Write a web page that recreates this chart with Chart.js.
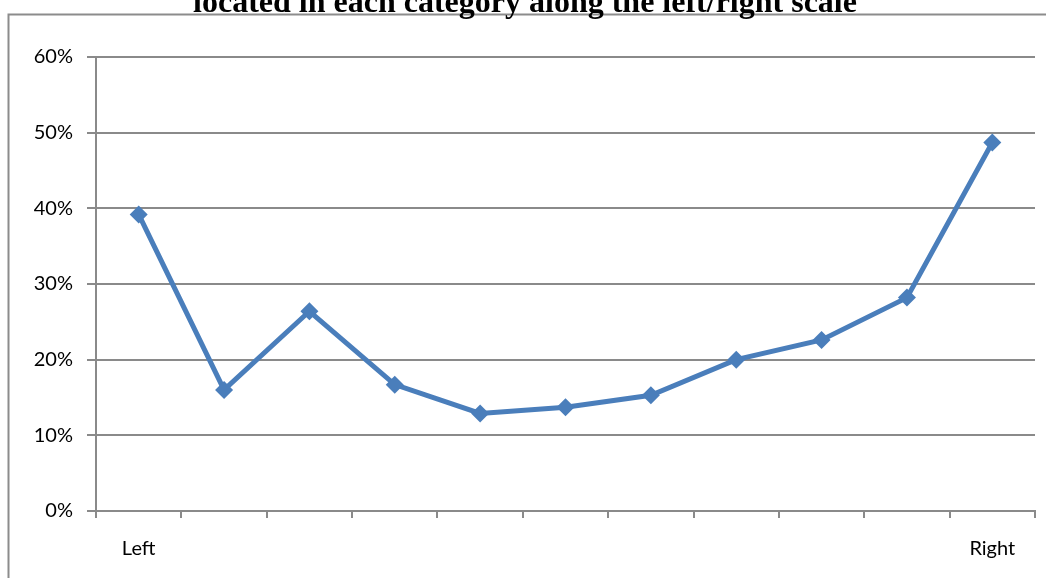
<!DOCTYPE html>
<html>
<head>
<meta charset="utf-8">
<script src="https://cdn.jsdelivr.net/npm/chart.js@4/dist/chart.umd.min.js"></script>
<style>
  html, body { margin: 0; padding: 0; background: #fff; }
  #wrap { width: 1046px; height: 578px; position: relative; }
</style>
</head>
<body>
<div id="wrap"><canvas id="chart" width="1046" height="578"></canvas></div>
<script>
// Share of respondents placed in each position of the left/right scale
const categories = ['Left', '', '', '', '', '', '', '', '', '', 'Right'];
const shares = [0.392, 0.160, 0.264, 0.167, 0.129, 0.137, 0.153, 0.200, 0.226, 0.282, 0.487];
const yTicks = [0, 0.1, 0.2, 0.3, 0.4, 0.5, 0.6];

const titleText = 'located in each category along the left/right scale';
const gridGray = '#8a8a8a';
const seriesBlue = '#4a7ebb';
const labelFont = { family: 'Lato, "Open Sans", sans-serif', size: 20 };

// Outer frame and the (partly clipped) heading
const framePlugin = {
  id: 'frame',
  beforeDraw(chart) {
    const ctx = chart.ctx;
    ctx.save();
    ctx.strokeStyle = '#8c8c8c';
    ctx.lineWidth = 2;
    ctx.beginPath();
    ctx.moveTo(8.5, 600);
    ctx.lineTo(8.5, 14.5);
    ctx.lineTo(1060, 14.5);
    ctx.stroke();
    ctx.fillStyle = '#000';
    ctx.font = 'bold 32px "Liberation Serif", "Times New Roman", serif';
    ctx.textAlign = 'center';
    ctx.textBaseline = 'alphabetic';
    ctx.fillText(titleText, 525, 12);
    ctx.restore();
  }
};

new Chart(document.getElementById('chart'), {
  type: 'line',
  data: {
    labels: categories,
    datasets: [{
      data: shares,
      borderColor: seriesBlue,
      backgroundColor: seriesBlue,
      borderWidth: 5,
      pointStyle: 'rectRot',
      pointRadius: 9,
      pointHoverRadius: 9,
      pointBorderWidth: 0,
      tension: 0,
      fill: false
    }]
  },
  options: {
    responsive: false,
    animation: false,
    layout: { padding: { left: 0, right: 11, top: 57, bottom: 0 } },
    plugins: {
      legend: { display: false },
      title: { display: false },
      tooltip: { enabled: false }
    },
    scales: {
      x: {
        offset: true,
        grid: {
          offset: true,
          drawOnChartArea: false,
          drawTicks: true,
          tickLength: 7,
          color: gridGray,
          lineWidth: 2
        },
        border: { color: gridGray, width: 2 },
        ticks: {
          autoSkip: false,
          maxRotation: 0,
          color: '#000',
          font: labelFont,
          padding: 19
        },
        afterFit(scale) { scale.height = 67; }
      },
      y: {
        min: 0,
        max: 0.6,
        afterBuildTicks(scale) { scale.ticks = yTicks.map(v => ({ value: v })); },
        grid: {
          color: gridGray,
          lineWidth: 2,
          drawTicks: true,
          tickLength: 9
        },
        border: { color: gridGray, width: 2 },
        ticks: {
          color: '#000',
          font: labelFont,
          padding: 14,
          callback: v => Math.round(v * 100) + '%'
        },
        afterFit(scale) { scale.width = 96; }
      }
    }
  },
  plugins: [framePlugin]
});
</script>
</body>
</html>
